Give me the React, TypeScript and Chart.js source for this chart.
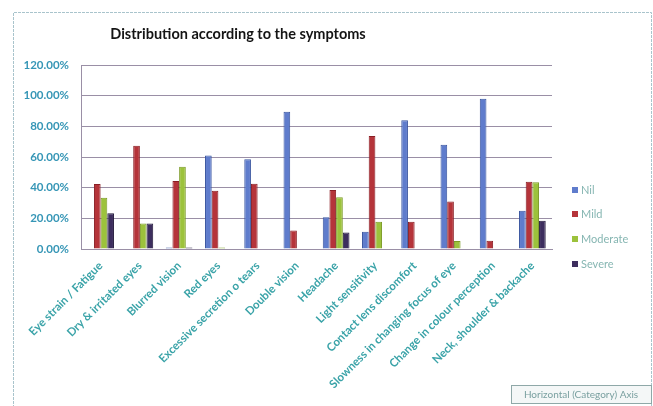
import React, { useEffect, useRef } from "react";
import { Chart, registerables } from "chart.js";

Chart.register(...registerables);

const categories = [
  "Eye strain / Fatigue",
  "Dry & irritated eyes",
  "Blurred vision",
  "Red eyes",
  "Excessive secretion o tears",
  "Double vision",
  "Headache",
  "Light sensitivity",
  "Contact lens discomfort",
  "Slowness in changing focus of eye",
  "Change in colour perception",
  "Neck, shoulder & backache",
];

const nil = [0, 0, 1, 61, 58.5, 89.5, 20.7, 11.3, 84, 68, 98, 25];
const mild = [42.4, 67.4, 44.3, 38, 42.6, 12, 38.5, 73.7, 17.8, 31, 5.4, 43.9];
const moderate = [33.5, 16.7, 53.7, 1, 0, 0, 33.7, 17.8, 0, 5.2, 0, 43.5];
const severe = [23.3, 16.7, 1, 0, 0, 0, 10.7, 0, 0, 0, 0, 18.5];

const seriesNames = ["Nil", "Mild", "Moderate", "Severe"];
const seriesColors = ["#5f7ccc", "#b5343a", "#9cc23c", "#3d2e5e"];
const seriesBorders = ["#3a56a0", "#8a1f25", "#7a9a24", "#22183a"];

const yTicksMax = 120;
const yStep = 20;

const titleText = "Distribution according to the symptoms";
const axisTip = "Horizontal (Category) Axis";

const W = 653;
const H = 406;

export default function App() {
  const ref = useRef<HTMLCanvasElement>(null);

  useEffect(() => {
    const canvas = ref.current!;
    const decor = {
      id: "decor",
      beforeDraw(chart: any) {
        const ctx = chart.ctx;
        ctx.save();
        ctx.fillStyle = "#ffffff";
        ctx.fillRect(0, 0, W, H);
        // outer frame
        ctx.strokeStyle = "#a9c4cc";
        ctx.setLineDash([3, 1]);
        ctx.lineWidth = 1;
        ctx.beginPath();
        ctx.moveTo(13.5, H + 2);
        ctx.lineTo(13.5, 12.5);
        ctx.lineTo(651.5, 12.5);
        ctx.lineTo(651.5, H + 2);
        ctx.stroke();
        ctx.setLineDash([]);
        // title
        ctx.fillStyle = "#141414";
        ctx.font = "bold 14.5px Lato";
        ctx.textAlign = "center";
        ctx.textBaseline = "middle";
        ctx.fillText(titleText, 238, 34);
        ctx.restore();
      },
      afterDraw(chart: any) {
        const ctx = chart.ctx;
        ctx.save();
        // legend
        const ys = [190, 214, 239, 264];
        ctx.font = "11px Lato";
        ctx.textBaseline = "middle";
        ctx.textAlign = "left";
        seriesNames.forEach((n, i) => {
          ctx.fillStyle = seriesColors[i];
          ctx.fillRect(572, ys[i] - 3, 6, 6);
          ctx.fillStyle = "#86b6b2";
          ctx.fillText(n, 581, ys[i]);
        });
        // axis tooltip box
        ctx.fillStyle = "#f4f7f7";
        ctx.fillRect(511.5, 385.5, 140, 18);
        ctx.strokeStyle = "#8fa8a8";
        ctx.strokeRect(511.5, 385.5, 140, 18);
        ctx.fillStyle = "#7aa0a0";
        ctx.font = "10px Lato";
        ctx.textAlign = "center";
        ctx.fillText(axisTip, 581, 395);
        ctx.restore();
      },
    };

    const mk = (data: number[], i: number) => ({
      label: seriesNames[i],
      data,
      backgroundColor: seriesColors[i],
      borderColor: seriesBorders[i],
      borderWidth: 1,
      barPercentage: 1,
      categoryPercentage: 0.68,
    });

    const chart = new Chart(canvas, {
      type: "bar",
      data: {
        labels: categories,
        datasets: [mk(nil, 0), mk(mild, 1), mk(moderate, 2), mk(severe, 3)],
      },
      options: {
        animation: false,
        responsive: false,
        maintainAspectRatio: false,
        devicePixelRatio: 1,
        layout: { padding: { top: 65, left: 10, right: 101, bottom: 0 } },
        plugins: {
          legend: { display: false },
          title: { display: false },
          tooltip: { enabled: false },
        },
        scales: {
          x: {
            grid: { display: false },
            border: { display: true, color: "#9a8fa6" },
            ticks: {
              maxRotation: 45,
              minRotation: 45,
              autoSkip: false,
              color: "#3aa3a8",
              font: { family: "Lato", size: 11.5, weight: "bold" },
              padding: 2,
            },
            afterFit(scale: any) {
              scale.height = H - 249;
            },
          },
          y: {
            min: 0,
            max: yTicksMax,
            ticks: {
              stepSize: yStep,
              color: "#3696b6",
              font: { family: "Lato", size: 11.5, weight: "bold" },
              padding: 12,
              callback: (v: any) => Number(v).toFixed(2) + "%",
            },
            grid: { color: "#9a8fa6", drawTicks: false },
            border: { display: true, color: "#9a8fa6" },
            afterFit(scale: any) {
              scale.width = 71;
            },
          },
        },
      },
      plugins: [decor],
    } as any);
    return () => chart.destroy();
  }, []);

  return (
    <div style={{ position: "fixed", left: 0, top: 0, width: W, height: H, background: "#fff" }}>
      <canvas ref={ref} width={W} height={H} style={{ width: W, height: H, display: "block" }} />
    </div>
  );
}
